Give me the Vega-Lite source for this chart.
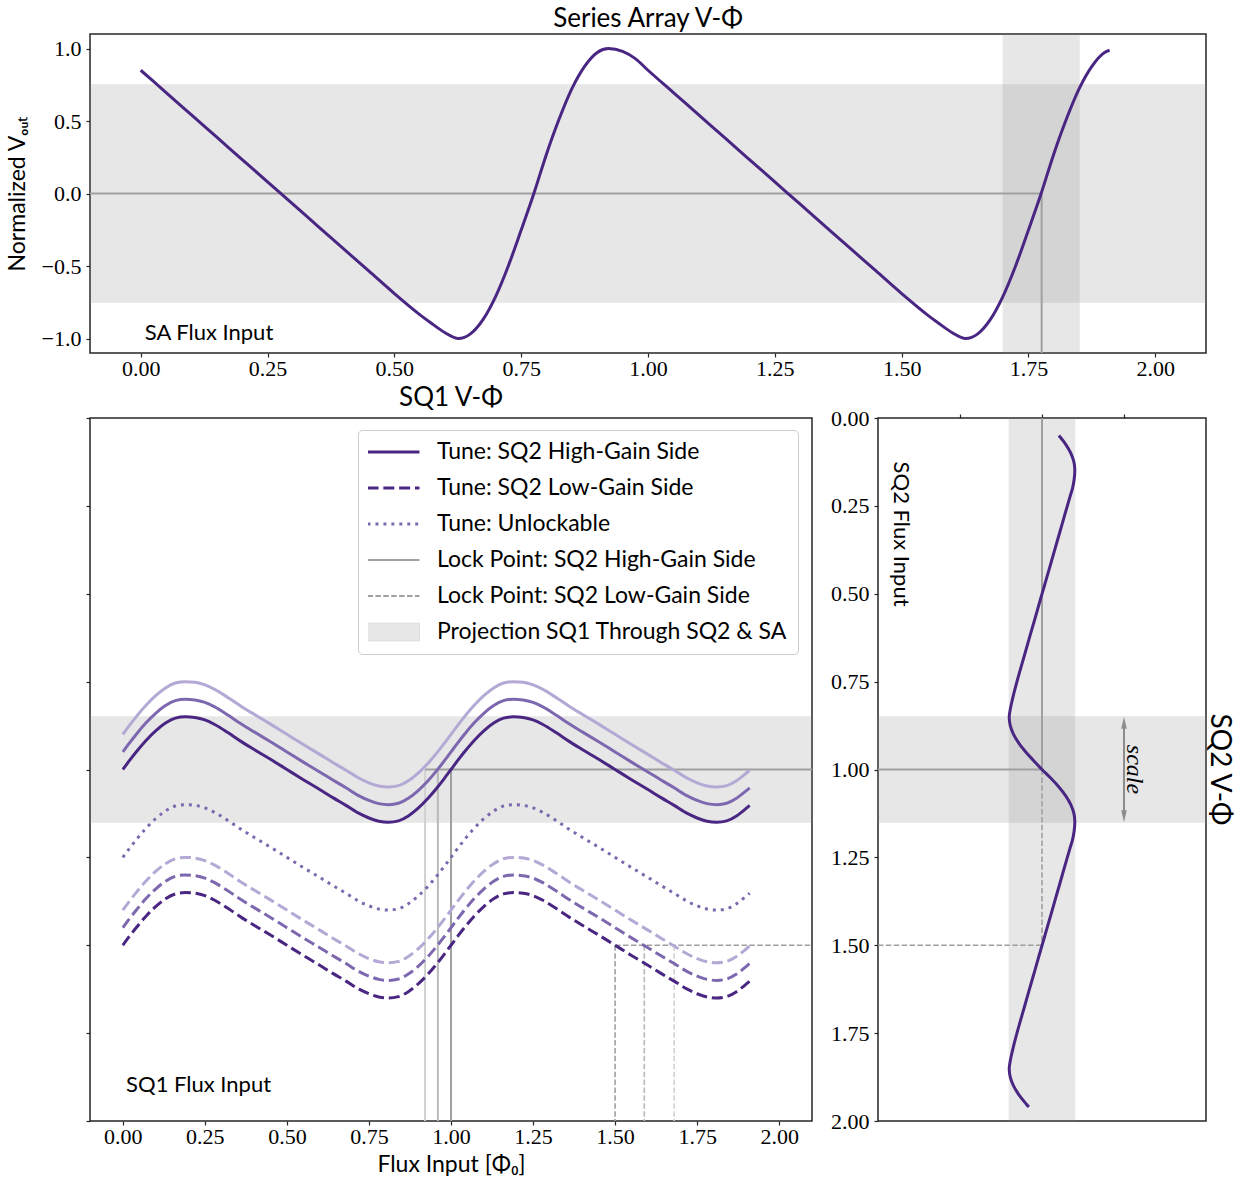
{
  "$schema": "https://vega.github.io/schema/vega-lite/v6.json",
  "background": "white",
  "padding": {"left": 5, "top": 4, "right": 6, "bottom": 0},
  "bounds": "flush",
  "spacing": 65,
  "config": {
    "view": {"stroke": "#262626", "strokeWidth": 1.5},
    "axis": {"labelFont": "Liberation Serif", "labelFontSize": 22, "labelColor": "#000", "titleFont": "Lato", "titleFontSize": 23, "titleFontWeight": "normal", "titleColor": "#000", "domain": false, "grid": false, "tickColor": "#262626", "tickSize": 4, "tickWidth": 1.2, "labelPadding": 5, "labelFlush": false, "labelOverlap": false, "titlePadding": 7},
    "axisX": {"labelPadding": 1, "titlePadding": 6},
    "axisY": {"titlePadding": 12},
    "title": {"font": "Lato", "fontSize": 26, "fontWeight": "normal", "color": "#000"},
    "text": {"font": "Lato", "fontSize": 22, "color": "#000"}
  },
  "datasets": {
    "sa": [{"x":0,"y":0.85},{"x":0.05,"y":0.696},{"x":0.1,"y":0.542},{"x":0.15,"y":0.388},{"x":0.2,"y":0.234},{"x":0.25,"y":0.08},{"x":0.3,"y":-0.074},{"x":0.35,"y":-0.228},{"x":0.4,"y":-0.382},{"x":0.45,"y":-0.536},{"x":0.5,"y":-0.69},{"x":0.55,"y":-0.835},{"x":0.575,"y":-0.9},{"x":0.6,"y":-0.96},{"x":0.626,"y":-1.0},{"x":0.65,"y":-0.968},{"x":0.675,"y":-0.868},{"x":0.7,"y":-0.707},{"x":0.725,"y":-0.496},{"x":0.75,"y":-0.252},{"x":0.775,"y":0},{"x":0.8,"y":0.273},{"x":0.825,"y":0.515},{"x":0.85,"y":0.723},{"x":0.875,"y":0.877},{"x":0.9,"y":0.973},{"x":0.922,"y":1.0},{"x":0.95,"y":0.98},{"x":0.975,"y":0.93},
      {"x":1.0,"y":0.85},{"x":1.05,"y":0.696},{"x":1.1,"y":0.542},{"x":1.15,"y":0.388},{"x":1.2,"y":0.234},{"x":1.25,"y":0.08},{"x":1.3,"y":-0.074},{"x":1.35,"y":-0.228},{"x":1.4,"y":-0.382},{"x":1.45,"y":-0.536},{"x":1.5,"y":-0.69},{"x":1.55,"y":-0.835},{"x":1.575,"y":-0.9},{"x":1.6,"y":-0.96},{"x":1.626,"y":-1.0},{"x":1.65,"y":-0.968},{"x":1.675,"y":-0.868},{"x":1.7,"y":-0.707},{"x":1.725,"y":-0.496},{"x":1.75,"y":-0.252},{"x":1.775,"y":0},{"x":1.8,"y":0.273},{"x":1.825,"y":0.515},{"x":1.85,"y":0.723},{"x":1.875,"y":0.877},{"x":1.9,"y":0.973},{"x":1.91,"y":0.988}],
    "sq2": [{"y":0.05,"x":0.206},{"y":0.075,"x":0.289},{"y":0.1,"x":0.351},{"y":0.125,"x":0.389},{"y":0.147,"x":0.4},{"y":0.175,"x":0.392},{"y":0.2,"x":0.372},{"y":0.225,"x":0.34},{"y":0.275,"x":0.278},{"y":0.325,"x":0.217},{"y":0.375,"x":0.155},{"y":0.425,"x":0.094},{"y":0.475,"x":0.032},{"y":0.525,"x":-0.03},{"y":0.575,"x":-0.091},{"y":0.625,"x":-0.153},{"y":0.675,"x":-0.214},{"y":0.725,"x":-0.276},{"y":0.775,"x":-0.334},{"y":0.8,"x":-0.36},{"y":0.825,"x":-0.384},{"y":0.851,"x":-0.4},{"y":0.875,"x":-0.387},{"y":0.9,"x":-0.347},{"y":0.925,"x":-0.283},{"y":0.95,"x":-0.198},{"y":0.975,"x":-0.101},{"y":1.0,"x":0},{"y":1.025,"x":0.109},{"y":1.05,"x":0.206},{"y":1.075,"x":0.289},{"y":1.1,"x":0.351},{"y":1.125,"x":0.389},{"y":1.147,"x":0.4},{"y":1.175,"x":0.392},{"y":1.2,"x":0.372},{"y":1.225,"x":0.34},{"y":1.275,"x":0.278},{"y":1.325,"x":0.217},{"y":1.375,"x":0.155},{"y":1.425,"x":0.094},{"y":1.475,"x":0.032},{"y":1.525,"x":-0.03},{"y":1.575,"x":-0.091},{"y":1.625,"x":-0.153},{"y":1.675,"x":-0.214},{"y":1.725,"x":-0.276},{"y":1.775,"x":-0.334},{"y":1.8,"x":-0.36},{"y":1.825,"x":-0.384},{"y":1.851,"x":-0.4},{"y":1.875,"x":-0.387},{"y":1.9,"x":-0.347},{"y":1.925,"x":-0.283},{"y":1.95,"x":-0.198},{"y":1.96,"x":-0.16}],
    "sq1": [
      {"s":"h1","x":0,"y":1},{"s":"h1","x":0.02,"y":0.975},{"s":"h1","x":0.04,"y":0.951},{"s":"h1","x":0.07,"y":0.918},{"s":"h1","x":0.1,"y":0.89},{"s":"h1","x":0.13,"y":0.868},{"s":"h1","x":0.16,"y":0.854},{"s":"h1","x":0.19,"y":0.85},{"s":"h1","x":0.22,"y":0.852},{"s":"h1","x":0.25,"y":0.859},{"s":"h1","x":0.28,"y":0.872},{"s":"h1","x":0.32,"y":0.895},{"s":"h1","x":0.36,"y":0.92},{"s":"h1","x":0.4,"y":0.943},{"s":"h1","x":0.45,"y":0.971},{"s":"h1","x":0.5,"y":1},{"s":"h1","x":0.55,"y":1.029},{"s":"h1","x":0.6,"y":1.057},{"s":"h1","x":0.64,"y":1.08},{"s":"h1","x":0.68,"y":1.102},{"s":"h1","x":0.72,"y":1.125},{"s":"h1","x":0.75,"y":1.138},{"s":"h1","x":0.78,"y":1.147},{"s":"h1","x":0.81,"y":1.15},{"s":"h1","x":0.84,"y":1.146},{"s":"h1","x":0.87,"y":1.132},{"s":"h1","x":0.9,"y":1.11},{"s":"h1","x":0.93,"y":1.082},{"s":"h1","x":0.96,"y":1.049},{"s":"h1","x":0.98,"y":1.025},
      {"s":"h1","x":1,"y":1},{"s":"h1","x":1.02,"y":0.975},{"s":"h1","x":1.04,"y":0.951},{"s":"h1","x":1.07,"y":0.918},{"s":"h1","x":1.1,"y":0.89},{"s":"h1","x":1.13,"y":0.868},{"s":"h1","x":1.16,"y":0.854},{"s":"h1","x":1.19,"y":0.85},{"s":"h1","x":1.22,"y":0.852},{"s":"h1","x":1.25,"y":0.859},{"s":"h1","x":1.28,"y":0.872},{"s":"h1","x":1.32,"y":0.895},{"s":"h1","x":1.36,"y":0.92},{"s":"h1","x":1.4,"y":0.943},{"s":"h1","x":1.45,"y":0.971},{"s":"h1","x":1.5,"y":1},{"s":"h1","x":1.55,"y":1.029},{"s":"h1","x":1.6,"y":1.057},{"s":"h1","x":1.64,"y":1.08},{"s":"h1","x":1.68,"y":1.102},{"s":"h1","x":1.72,"y":1.125},{"s":"h1","x":1.75,"y":1.138},{"s":"h1","x":1.78,"y":1.147},{"s":"h1","x":1.81,"y":1.15},{"s":"h1","x":1.84,"y":1.146},{"s":"h1","x":1.87,"y":1.132},{"s":"h1","x":1.9,"y":1.11},{"s":"h1","x":1.91,"y":1.102},
      {"s":"h2","x":0,"y":0.95},{"s":"h2","x":0.02,"y":0.925},{"s":"h2","x":0.04,"y":0.901},{"s":"h2","x":0.07,"y":0.868},{"s":"h2","x":0.1,"y":0.84},{"s":"h2","x":0.13,"y":0.818},{"s":"h2","x":0.16,"y":0.804},{"s":"h2","x":0.19,"y":0.8},{"s":"h2","x":0.22,"y":0.802},{"s":"h2","x":0.25,"y":0.809},{"s":"h2","x":0.28,"y":0.822},{"s":"h2","x":0.32,"y":0.845},{"s":"h2","x":0.36,"y":0.87},{"s":"h2","x":0.4,"y":0.893},{"s":"h2","x":0.45,"y":0.921},{"s":"h2","x":0.5,"y":0.95},{"s":"h2","x":0.55,"y":0.979},{"s":"h2","x":0.6,"y":1.007},{"s":"h2","x":0.64,"y":1.03},{"s":"h2","x":0.68,"y":1.052},{"s":"h2","x":0.72,"y":1.075},{"s":"h2","x":0.75,"y":1.088},{"s":"h2","x":0.78,"y":1.097},{"s":"h2","x":0.81,"y":1.1},{"s":"h2","x":0.84,"y":1.096},{"s":"h2","x":0.87,"y":1.082},{"s":"h2","x":0.9,"y":1.06},{"s":"h2","x":0.93,"y":1.032},{"s":"h2","x":0.96,"y":0.999},{"s":"h2","x":0.98,"y":0.975},
      {"s":"h2","x":1,"y":0.95},{"s":"h2","x":1.02,"y":0.925},{"s":"h2","x":1.04,"y":0.901},{"s":"h2","x":1.07,"y":0.868},{"s":"h2","x":1.1,"y":0.84},{"s":"h2","x":1.13,"y":0.818},{"s":"h2","x":1.16,"y":0.804},{"s":"h2","x":1.19,"y":0.8},{"s":"h2","x":1.22,"y":0.802},{"s":"h2","x":1.25,"y":0.809},{"s":"h2","x":1.28,"y":0.822},{"s":"h2","x":1.32,"y":0.845},{"s":"h2","x":1.36,"y":0.87},{"s":"h2","x":1.4,"y":0.893},{"s":"h2","x":1.45,"y":0.921},{"s":"h2","x":1.5,"y":0.95},{"s":"h2","x":1.55,"y":0.979},{"s":"h2","x":1.6,"y":1.007},{"s":"h2","x":1.64,"y":1.03},{"s":"h2","x":1.68,"y":1.052},{"s":"h2","x":1.72,"y":1.075},{"s":"h2","x":1.75,"y":1.088},{"s":"h2","x":1.78,"y":1.097},{"s":"h2","x":1.81,"y":1.1},{"s":"h2","x":1.84,"y":1.096},{"s":"h2","x":1.87,"y":1.082},{"s":"h2","x":1.9,"y":1.06},{"s":"h2","x":1.91,"y":1.052},
      {"s":"h3","x":0,"y":0.9},{"s":"h3","x":0.02,"y":0.875},{"s":"h3","x":0.04,"y":0.851},{"s":"h3","x":0.07,"y":0.818},{"s":"h3","x":0.1,"y":0.79},{"s":"h3","x":0.13,"y":0.768},{"s":"h3","x":0.16,"y":0.754},{"s":"h3","x":0.19,"y":0.75},{"s":"h3","x":0.22,"y":0.752},{"s":"h3","x":0.25,"y":0.759},{"s":"h3","x":0.28,"y":0.772},{"s":"h3","x":0.32,"y":0.795},{"s":"h3","x":0.36,"y":0.82},{"s":"h3","x":0.4,"y":0.843},{"s":"h3","x":0.45,"y":0.871},{"s":"h3","x":0.5,"y":0.9},{"s":"h3","x":0.55,"y":0.929},{"s":"h3","x":0.6,"y":0.957},{"s":"h3","x":0.64,"y":0.98},{"s":"h3","x":0.68,"y":1.002},{"s":"h3","x":0.72,"y":1.025},{"s":"h3","x":0.75,"y":1.038},{"s":"h3","x":0.78,"y":1.047},{"s":"h3","x":0.81,"y":1.05},{"s":"h3","x":0.84,"y":1.046},{"s":"h3","x":0.87,"y":1.032},{"s":"h3","x":0.9,"y":1.01},{"s":"h3","x":0.93,"y":0.982},{"s":"h3","x":0.96,"y":0.949},{"s":"h3","x":0.98,"y":0.925},
      {"s":"h3","x":1,"y":0.9},{"s":"h3","x":1.02,"y":0.875},{"s":"h3","x":1.04,"y":0.851},{"s":"h3","x":1.07,"y":0.818},{"s":"h3","x":1.1,"y":0.79},{"s":"h3","x":1.13,"y":0.768},{"s":"h3","x":1.16,"y":0.754},{"s":"h3","x":1.19,"y":0.75},{"s":"h3","x":1.22,"y":0.752},{"s":"h3","x":1.25,"y":0.759},{"s":"h3","x":1.28,"y":0.772},{"s":"h3","x":1.32,"y":0.795},{"s":"h3","x":1.36,"y":0.82},{"s":"h3","x":1.4,"y":0.843},{"s":"h3","x":1.45,"y":0.871},{"s":"h3","x":1.5,"y":0.9},{"s":"h3","x":1.55,"y":0.929},{"s":"h3","x":1.6,"y":0.957},{"s":"h3","x":1.64,"y":0.98},{"s":"h3","x":1.68,"y":1.002},{"s":"h3","x":1.72,"y":1.025},{"s":"h3","x":1.75,"y":1.038},{"s":"h3","x":1.78,"y":1.047},{"s":"h3","x":1.81,"y":1.05},{"s":"h3","x":1.84,"y":1.046},{"s":"h3","x":1.87,"y":1.032},{"s":"h3","x":1.9,"y":1.01},{"s":"h3","x":1.91,"y":1.002},
      {"s":"u","x":0,"y":1.25},{"s":"u","x":0.02,"y":1.225},{"s":"u","x":0.04,"y":1.201},{"s":"u","x":0.07,"y":1.168},{"s":"u","x":0.1,"y":1.14},{"s":"u","x":0.13,"y":1.118},{"s":"u","x":0.16,"y":1.104},{"s":"u","x":0.19,"y":1.1},{"s":"u","x":0.22,"y":1.102},{"s":"u","x":0.25,"y":1.109},{"s":"u","x":0.28,"y":1.122},{"s":"u","x":0.32,"y":1.145},{"s":"u","x":0.36,"y":1.17},{"s":"u","x":0.4,"y":1.193},{"s":"u","x":0.45,"y":1.221},{"s":"u","x":0.5,"y":1.25},{"s":"u","x":0.55,"y":1.279},{"s":"u","x":0.6,"y":1.307},{"s":"u","x":0.64,"y":1.33},{"s":"u","x":0.68,"y":1.352},{"s":"u","x":0.72,"y":1.375},{"s":"u","x":0.75,"y":1.388},{"s":"u","x":0.78,"y":1.397},{"s":"u","x":0.81,"y":1.4},{"s":"u","x":0.84,"y":1.396},{"s":"u","x":0.87,"y":1.382},{"s":"u","x":0.9,"y":1.36},{"s":"u","x":0.93,"y":1.332},{"s":"u","x":0.96,"y":1.299},{"s":"u","x":0.98,"y":1.275},
      {"s":"u","x":1,"y":1.25},{"s":"u","x":1.02,"y":1.225},{"s":"u","x":1.04,"y":1.201},{"s":"u","x":1.07,"y":1.168},{"s":"u","x":1.1,"y":1.14},{"s":"u","x":1.13,"y":1.118},{"s":"u","x":1.16,"y":1.104},{"s":"u","x":1.19,"y":1.1},{"s":"u","x":1.22,"y":1.102},{"s":"u","x":1.25,"y":1.109},{"s":"u","x":1.28,"y":1.122},{"s":"u","x":1.32,"y":1.145},{"s":"u","x":1.36,"y":1.17},{"s":"u","x":1.4,"y":1.193},{"s":"u","x":1.45,"y":1.221},{"s":"u","x":1.5,"y":1.25},{"s":"u","x":1.55,"y":1.279},{"s":"u","x":1.6,"y":1.307},{"s":"u","x":1.64,"y":1.33},{"s":"u","x":1.68,"y":1.352},{"s":"u","x":1.72,"y":1.375},{"s":"u","x":1.75,"y":1.388},{"s":"u","x":1.78,"y":1.397},{"s":"u","x":1.81,"y":1.4},{"s":"u","x":1.84,"y":1.396},{"s":"u","x":1.87,"y":1.382},{"s":"u","x":1.9,"y":1.36},{"s":"u","x":1.91,"y":1.352},
      {"s":"l1","x":0,"y":1.5},{"s":"l1","x":0.02,"y":1.475},{"s":"l1","x":0.04,"y":1.451},{"s":"l1","x":0.07,"y":1.418},{"s":"l1","x":0.1,"y":1.39},{"s":"l1","x":0.13,"y":1.368},{"s":"l1","x":0.16,"y":1.354},{"s":"l1","x":0.19,"y":1.35},{"s":"l1","x":0.22,"y":1.352},{"s":"l1","x":0.25,"y":1.359},{"s":"l1","x":0.28,"y":1.372},{"s":"l1","x":0.32,"y":1.395},{"s":"l1","x":0.36,"y":1.42},{"s":"l1","x":0.4,"y":1.443},{"s":"l1","x":0.45,"y":1.471},{"s":"l1","x":0.5,"y":1.5},{"s":"l1","x":0.55,"y":1.529},{"s":"l1","x":0.6,"y":1.557},{"s":"l1","x":0.64,"y":1.58},{"s":"l1","x":0.68,"y":1.602},{"s":"l1","x":0.72,"y":1.625},{"s":"l1","x":0.75,"y":1.638},{"s":"l1","x":0.78,"y":1.647},{"s":"l1","x":0.81,"y":1.65},{"s":"l1","x":0.84,"y":1.646},{"s":"l1","x":0.87,"y":1.632},{"s":"l1","x":0.9,"y":1.61},{"s":"l1","x":0.93,"y":1.582},{"s":"l1","x":0.96,"y":1.549},{"s":"l1","x":0.98,"y":1.525},
      {"s":"l1","x":1,"y":1.5},{"s":"l1","x":1.02,"y":1.475},{"s":"l1","x":1.04,"y":1.451},{"s":"l1","x":1.07,"y":1.418},{"s":"l1","x":1.1,"y":1.39},{"s":"l1","x":1.13,"y":1.368},{"s":"l1","x":1.16,"y":1.354},{"s":"l1","x":1.19,"y":1.35},{"s":"l1","x":1.22,"y":1.352},{"s":"l1","x":1.25,"y":1.359},{"s":"l1","x":1.28,"y":1.372},{"s":"l1","x":1.32,"y":1.395},{"s":"l1","x":1.36,"y":1.42},{"s":"l1","x":1.4,"y":1.443},{"s":"l1","x":1.45,"y":1.471},{"s":"l1","x":1.5,"y":1.5},{"s":"l1","x":1.55,"y":1.529},{"s":"l1","x":1.6,"y":1.557},{"s":"l1","x":1.64,"y":1.58},{"s":"l1","x":1.68,"y":1.602},{"s":"l1","x":1.72,"y":1.625},{"s":"l1","x":1.75,"y":1.638},{"s":"l1","x":1.78,"y":1.647},{"s":"l1","x":1.81,"y":1.65},{"s":"l1","x":1.84,"y":1.646},{"s":"l1","x":1.87,"y":1.632},{"s":"l1","x":1.9,"y":1.61},{"s":"l1","x":1.91,"y":1.602},
      {"s":"l2","x":0,"y":1.45},{"s":"l2","x":0.02,"y":1.425},{"s":"l2","x":0.04,"y":1.401},{"s":"l2","x":0.07,"y":1.368},{"s":"l2","x":0.1,"y":1.34},{"s":"l2","x":0.13,"y":1.318},{"s":"l2","x":0.16,"y":1.304},{"s":"l2","x":0.19,"y":1.3},{"s":"l2","x":0.22,"y":1.302},{"s":"l2","x":0.25,"y":1.309},{"s":"l2","x":0.28,"y":1.322},{"s":"l2","x":0.32,"y":1.345},{"s":"l2","x":0.36,"y":1.37},{"s":"l2","x":0.4,"y":1.393},{"s":"l2","x":0.45,"y":1.421},{"s":"l2","x":0.5,"y":1.45},{"s":"l2","x":0.55,"y":1.479},{"s":"l2","x":0.6,"y":1.507},{"s":"l2","x":0.64,"y":1.53},{"s":"l2","x":0.68,"y":1.552},{"s":"l2","x":0.72,"y":1.575},{"s":"l2","x":0.75,"y":1.588},{"s":"l2","x":0.78,"y":1.597},{"s":"l2","x":0.81,"y":1.6},{"s":"l2","x":0.84,"y":1.596},{"s":"l2","x":0.87,"y":1.582},{"s":"l2","x":0.9,"y":1.56},{"s":"l2","x":0.93,"y":1.532},{"s":"l2","x":0.96,"y":1.499},{"s":"l2","x":0.98,"y":1.475},
      {"s":"l2","x":1,"y":1.45},{"s":"l2","x":1.02,"y":1.425},{"s":"l2","x":1.04,"y":1.401},{"s":"l2","x":1.07,"y":1.368},{"s":"l2","x":1.1,"y":1.34},{"s":"l2","x":1.13,"y":1.318},{"s":"l2","x":1.16,"y":1.304},{"s":"l2","x":1.19,"y":1.3},{"s":"l2","x":1.22,"y":1.302},{"s":"l2","x":1.25,"y":1.309},{"s":"l2","x":1.28,"y":1.322},{"s":"l2","x":1.32,"y":1.345},{"s":"l2","x":1.36,"y":1.37},{"s":"l2","x":1.4,"y":1.393},{"s":"l2","x":1.45,"y":1.421},{"s":"l2","x":1.5,"y":1.45},{"s":"l2","x":1.55,"y":1.479},{"s":"l2","x":1.6,"y":1.507},{"s":"l2","x":1.64,"y":1.53},{"s":"l2","x":1.68,"y":1.552},{"s":"l2","x":1.72,"y":1.575},{"s":"l2","x":1.75,"y":1.588},{"s":"l2","x":1.78,"y":1.597},{"s":"l2","x":1.81,"y":1.6},{"s":"l2","x":1.84,"y":1.596},{"s":"l2","x":1.87,"y":1.582},{"s":"l2","x":1.9,"y":1.56},{"s":"l2","x":1.91,"y":1.552},
      {"s":"l3","x":0,"y":1.4},{"s":"l3","x":0.02,"y":1.375},{"s":"l3","x":0.04,"y":1.351},{"s":"l3","x":0.07,"y":1.318},{"s":"l3","x":0.1,"y":1.29},{"s":"l3","x":0.13,"y":1.268},{"s":"l3","x":0.16,"y":1.254},{"s":"l3","x":0.19,"y":1.25},{"s":"l3","x":0.22,"y":1.252},{"s":"l3","x":0.25,"y":1.259},{"s":"l3","x":0.28,"y":1.272},{"s":"l3","x":0.32,"y":1.295},{"s":"l3","x":0.36,"y":1.32},{"s":"l3","x":0.4,"y":1.343},{"s":"l3","x":0.45,"y":1.371},{"s":"l3","x":0.5,"y":1.4},{"s":"l3","x":0.55,"y":1.429},{"s":"l3","x":0.6,"y":1.457},{"s":"l3","x":0.64,"y":1.48},{"s":"l3","x":0.68,"y":1.502},{"s":"l3","x":0.72,"y":1.525},{"s":"l3","x":0.75,"y":1.538},{"s":"l3","x":0.78,"y":1.547},{"s":"l3","x":0.81,"y":1.55},{"s":"l3","x":0.84,"y":1.546},{"s":"l3","x":0.87,"y":1.532},{"s":"l3","x":0.9,"y":1.51},{"s":"l3","x":0.93,"y":1.482},{"s":"l3","x":0.96,"y":1.449},{"s":"l3","x":0.98,"y":1.425},
      {"s":"l3","x":1,"y":1.4},{"s":"l3","x":1.02,"y":1.375},{"s":"l3","x":1.04,"y":1.351},{"s":"l3","x":1.07,"y":1.318},{"s":"l3","x":1.1,"y":1.29},{"s":"l3","x":1.13,"y":1.268},{"s":"l3","x":1.16,"y":1.254},{"s":"l3","x":1.19,"y":1.25},{"s":"l3","x":1.22,"y":1.252},{"s":"l3","x":1.25,"y":1.259},{"s":"l3","x":1.28,"y":1.272},{"s":"l3","x":1.32,"y":1.295},{"s":"l3","x":1.36,"y":1.32},{"s":"l3","x":1.4,"y":1.343},{"s":"l3","x":1.45,"y":1.371},{"s":"l3","x":1.5,"y":1.4},{"s":"l3","x":1.55,"y":1.429},{"s":"l3","x":1.6,"y":1.457},{"s":"l3","x":1.64,"y":1.48},{"s":"l3","x":1.68,"y":1.502},{"s":"l3","x":1.72,"y":1.525},{"s":"l3","x":1.75,"y":1.538},{"s":"l3","x":1.78,"y":1.547},{"s":"l3","x":1.81,"y":1.55},{"s":"l3","x":1.84,"y":1.546},{"s":"l3","x":1.87,"y":1.532},{"s":"l3","x":1.9,"y":1.51},{"s":"l3","x":1.91,"y":1.502}
    ]
  },
  "vconcat": [
    {
      "width": 1116, "height": 319,
      "title": {"text": "Series Array V-Φ", "offset": 2},
      "layer": [
        {"data": {"values": [{}]}, "mark": {"type": "rect", "fill": "#808080", "stroke": "#808080", "strokeWidth": 1, "opacity": 0.18},
         "encoding": {
           "x": {"datum": -0.1, "type": "quantitative", "scale": {"domain": [-0.1, 2.1], "nice": false, "zero": false}, "axis": {"values": [0, 0.25, 0.5, 0.75, 1, 1.25, 1.5, 1.75, 2], "format": ".2f", "title": null}},
           "x2": {"datum": 2.1},
           "y": {"datum": -0.75, "type": "quantitative", "scale": {"domain": [-1.1, 1.1], "nice": false, "zero": false}, "axis": {"values": [-1, -0.5, 0, 0.5, 1], "format": ".1f", "title": "Normalized Vₒᵤₜ"}},
           "y2": {"datum": 0.75}}},
        {"data": {"values": [{}]}, "mark": {"type": "rect", "fill": "#808080", "stroke": "#808080", "strokeWidth": 1, "opacity": 0.18},
         "encoding": {"x": {"datum": 1.7}, "x2": {"datum": 1.85}, "y": {"datum": -1.1}, "y2": {"datum": 1.1}}},
        {"data": {"values": [{}]}, "mark": {"type": "rule", "color": "#a0a0a0", "strokeWidth": 2},
         "encoding": {"x": {"datum": -0.1}, "x2": {"datum": 1.776}, "y": {"datum": 0}}},
        {"data": {"values": [{}]}, "mark": {"type": "rule", "color": "#a0a0a0", "strokeWidth": 2},
         "encoding": {"x": {"datum": 1.776}, "y": {"datum": 0}, "y2": {"datum": -1.1}}},
        {"data": {"name": "sa"}, "mark": {"type": "line", "color": "#4a2683", "strokeWidth": 3, "interpolate": "monotone"},
         "encoding": {"x": {"field": "x", "type": "quantitative"}, "y": {"field": "y", "type": "quantitative"}}},
        {"data": {"values": [{}]}, "mark": {"type": "text", "align": "left", "baseline": "middle", "fontSize": 22},
         "encoding": {"x": {"datum": 0.008}, "y": {"datum": -0.965}, "text": {"value": "SA Flux Input"}}}
      ]
    },
    {
      "bounds": "flush",
      "spacing": 66,
      "hconcat": [
        {
          "width": 722, "height": 703,
          "title": {"text": "SQ1 V-Φ", "offset": 6},
          "layer": [
            {"data": {"values": [{}]}, "mark": {"type": "rect", "fill": "#808080", "stroke": "#808080", "strokeWidth": 1, "opacity": 0.18},
             "encoding": {
               "x": {"datum": -0.1, "type": "quantitative", "scale": {"domain": [-0.1, 2.1], "nice": false, "zero": false}, "axis": {"values": [0, 0.25, 0.5, 0.75, 1, 1.25, 1.5, 1.75, 2], "format": ".2f", "title": "Flux Input [Φ₀]"}},
               "x2": {"datum": 2.1},
               "y": {"datum": 0.85, "type": "quantitative", "scale": {"domain": [0, 2], "reverse": true, "nice": false, "zero": false}, "axis": {"values": [0, 0.25, 0.5, 0.75, 1, 1.25, 1.5, 1.75, 2], "labels": false, "title": null}},
               "y2": {"datum": 1.15}}},
            {"data": {"values": [{}]}, "mark": {"type": "rule", "color": "#d0d0d0", "strokeWidth": 2},
             "encoding": {"x": {"datum": 0.921}, "y": {"datum": 1.0}, "y2": {"datum": 2.0}}},
            {"data": {"values": [{}]}, "mark": {"type": "rule", "color": "#b9b9b9", "strokeWidth": 2},
             "encoding": {"x": {"datum": 0.96}, "y": {"datum": 1.0}, "y2": {"datum": 2.0}}},
            {"data": {"values": [{}]}, "mark": {"type": "rule", "color": "#a0a0a0", "strokeWidth": 2},
             "encoding": {"x": {"datum": 1.0}, "y": {"datum": 1.0}, "y2": {"datum": 2.0}}},
            {"data": {"values": [{}]}, "mark": {"type": "rule", "color": "#a0a0a0", "strokeWidth": 2},
             "encoding": {"x": {"datum": 0.921}, "x2": {"datum": 2.1}, "y": {"datum": 1.0}}},
            {"data": {"values": [{}]}, "mark": {"type": "rule", "color": "#a0a0a0", "strokeWidth": 1.6, "strokeDash": [5.5, 2.4]},
             "encoding": {"x": {"datum": 1.5}, "y": {"datum": 1.5}, "y2": {"datum": 2.0}}},
            {"data": {"values": [{}]}, "mark": {"type": "rule", "color": "#b9b9b9", "strokeWidth": 1.6, "strokeDash": [5.5, 2.4]},
             "encoding": {"x": {"datum": 1.589}, "y": {"datum": 1.5}, "y2": {"datum": 2.0}}},
            {"data": {"values": [{}]}, "mark": {"type": "rule", "color": "#d0d0d0", "strokeWidth": 1.6, "strokeDash": [5.5, 2.4]},
             "encoding": {"x": {"datum": 1.68}, "y": {"datum": 1.5}, "y2": {"datum": 2.0}}},
            {"data": {"values": [{}]}, "mark": {"type": "rule", "color": "#a0a0a0", "strokeWidth": 1.6, "strokeDash": [5.5, 2.4]},
             "encoding": {"x": {"datum": 1.5}, "x2": {"datum": 2.1}, "y": {"datum": 1.5}}},
            {"data": {"name": "sq1"}, "transform": [{"filter": "datum.s === 'h3'"}], "mark": {"type": "line", "color": "#b4a8d4", "strokeWidth": 3, "interpolate": "monotone"},
             "encoding": {"x": {"field": "x", "type": "quantitative"}, "y": {"field": "y", "type": "quantitative"}}},
            {"data": {"name": "sq1"}, "transform": [{"filter": "datum.s === 'h2'"}], "mark": {"type": "line", "color": "#7d68af", "strokeWidth": 3, "interpolate": "monotone"},
             "encoding": {"x": {"field": "x", "type": "quantitative"}, "y": {"field": "y", "type": "quantitative"}}},
            {"data": {"name": "sq1"}, "transform": [{"filter": "datum.s === 'h1'"}], "mark": {"type": "line", "color": "#4a2683", "strokeWidth": 3, "interpolate": "monotone"},
             "encoding": {"x": {"field": "x", "type": "quantitative"}, "y": {"field": "y", "type": "quantitative"}}},
            {"data": {"name": "sq1"}, "transform": [{"filter": "datum.s === 'u'"}], "mark": {"type": "line", "color": "#7d68af", "strokeWidth": 3, "strokeDash": [3, 5], "interpolate": "monotone"},
             "encoding": {"x": {"field": "x", "type": "quantitative"}, "y": {"field": "y", "type": "quantitative"}}},
            {"data": {"name": "sq1"}, "transform": [{"filter": "datum.s === 'l3'"}], "mark": {"type": "line", "color": "#b4a8d4", "strokeWidth": 3, "strokeDash": [11, 4.8], "interpolate": "monotone"},
             "encoding": {"x": {"field": "x", "type": "quantitative"}, "y": {"field": "y", "type": "quantitative"}}},
            {"data": {"name": "sq1"}, "transform": [{"filter": "datum.s === 'l2'"}], "mark": {"type": "line", "color": "#7d68af", "strokeWidth": 3, "strokeDash": [11, 4.8], "interpolate": "monotone"},
             "encoding": {"x": {"field": "x", "type": "quantitative"}, "y": {"field": "y", "type": "quantitative"}}},
            {"data": {"name": "sq1"}, "transform": [{"filter": "datum.s === 'l1'"}], "mark": {"type": "line", "color": "#4a2683", "strokeWidth": 3, "strokeDash": [11, 4.8], "interpolate": "monotone"},
             "encoding": {"x": {"field": "x", "type": "quantitative"}, "y": {"field": "y", "type": "quantitative"}}},
            {"data": {"values": [{}]}, "mark": {"type": "text", "align": "left", "baseline": "middle", "fontSize": 22},
             "encoding": {"x": {"datum": 0.01}, "y": {"datum": 1.898}, "text": {"value": "SQ1 Flux Input"}}},
            {"data": {"values": [{"leg": "Tune: SQ2 High-Gain Side"}, {"leg": "Tune: SQ2 Low-Gain Side"}, {"leg": "Tune: Unlockable"}, {"leg": "Lock Point: SQ2 High-Gain Side"}, {"leg": "Lock Point: SQ2 Low-Gain Side"}, {"leg": "Projection SQ1 Through SQ2 & SA"}]},
             "mark": {"type": "line", "opacity": 0},
             "encoding": {
               "x": {"datum": 0}, "y": {"datum": 1},
               "color": {"field": "leg", "type": "nominal",
                 "scale": {"domain": ["Tune: SQ2 High-Gain Side", "Tune: SQ2 Low-Gain Side", "Tune: Unlockable", "Lock Point: SQ2 High-Gain Side", "Lock Point: SQ2 Low-Gain Side", "Projection SQ1 Through SQ2 & SA"], "range": ["#4a2683", "#4a2683", "#7d68af", "#a0a0a0", "#a0a0a0", "#d9d9d9"]},
                 "legend": {"title": null, "orient": "none", "legendX": 268, "legendY": 396, "symbolType": "stroke", "symbolSize": 2700, "symbolStrokeWidth": 3, "symbolOpacity": 1, "symbolOffset": 14, "labelFont": "Lato", "labelFontSize": 23, "labelColor": "#000", "labelLimit": 600, "labelOffset": 32, "clipHeight": 24, "rowPadding": 12, "padding": 10, "strokeColor": "#cccccc", "fillColor": "#ffffff", "cornerRadius": 4,
                   "encode": {"symbols": {"update": {
                     "shape": {"signal": "datum.value === 'Projection SQ1 Through SQ2 & SA' ? 'M-1,-0.34L1,-0.34L1,0.34L-1,0.34Z' : 'stroke'"},
                     "fill": {"signal": "datum.value === 'Projection SQ1 Through SQ2 & SA' ? '#e7e7e7' : 'transparent'"},
                     "strokeWidth": {"signal": "datum.index < 3 ? 3 : (datum.index < 5 ? 1.8 : 1)"},
                     "opacity": {"value": 1}}}}}},
               "strokeDash": {"field": "leg", "type": "nominal",
                 "scale": {"domain": ["Tune: SQ2 High-Gain Side", "Tune: SQ2 Low-Gain Side", "Tune: Unlockable", "Lock Point: SQ2 High-Gain Side", "Lock Point: SQ2 Low-Gain Side", "Projection SQ1 Through SQ2 & SA"], "range": [[1, 0], [11, 4.8], [3, 4.95], [1, 0], [5.5, 2.4], [1, 0]]},
                 "legend": {"title": null, "orient": "none", "legendX": 268, "legendY": 396}}}}
          ]
        },
        {
          "width": 328, "height": 703,
          "title": {"text": "SQ2 V-Φ", "orient": "right", "anchor": "middle", "fontSize": 28, "offset": -2},
          "layer": [
            {"data": {"values": [{}]}, "mark": {"type": "rect", "fill": "#808080", "stroke": "#808080", "strokeWidth": 1, "opacity": 0.18},
             "encoding": {
               "x": {"datum": -0.4, "type": "quantitative", "scale": {"domain": [-2, 2], "nice": false, "zero": false}, "axis": {"orient": "top", "values": [-1, 0, 1], "labels": false, "title": null}},
               "x2": {"datum": 0.4},
               "y": {"datum": 0, "type": "quantitative", "scale": {"domain": [0, 2], "reverse": true, "nice": false, "zero": false}, "axis": {"values": [0, 0.25, 0.5, 0.75, 1, 1.25, 1.5, 1.75, 2], "format": ".2f", "title": null}},
               "y2": {"datum": 2}}},
            {"data": {"values": [{}]}, "mark": {"type": "rect", "fill": "#808080", "stroke": "#808080", "strokeWidth": 1, "opacity": 0.18},
             "encoding": {"x": {"datum": -2}, "x2": {"datum": 2}, "y": {"datum": 0.85}, "y2": {"datum": 1.15}}},
            {"data": {"values": [{}]}, "mark": {"type": "rule", "color": "#a0a0a0", "strokeWidth": 2},
             "encoding": {"x": {"datum": 0}, "y": {"datum": 0}, "y2": {"datum": 1.0}}},
            {"data": {"values": [{}]}, "mark": {"type": "rule", "color": "#a0a0a0", "strokeWidth": 2},
             "encoding": {"x": {"datum": -2}, "x2": {"datum": 0}, "y": {"datum": 1.0}}},
            {"data": {"values": [{}]}, "mark": {"type": "rule", "color": "#a0a0a0", "strokeWidth": 1.6, "strokeDash": [5.5, 2.4]},
             "encoding": {"x": {"datum": 0}, "y": {"datum": 1.0}, "y2": {"datum": 1.5}}},
            {"data": {"values": [{}]}, "mark": {"type": "rule", "color": "#a0a0a0", "strokeWidth": 1.6, "strokeDash": [5.5, 2.4]},
             "encoding": {"x": {"datum": -2}, "x2": {"datum": 0}, "y": {"datum": 1.5}}},
            {"data": {"name": "sq2"}, "mark": {"type": "line", "color": "#4a2683", "strokeWidth": 3, "interpolate": "catmull-rom"},
             "encoding": {"x": {"field": "x", "type": "quantitative"}, "y": {"field": "y", "type": "quantitative"}, "order": {"field": "y", "type": "quantitative"}}},
            {"data": {"values": [{}]}, "mark": {"type": "rule", "color": "#8c8c8c", "strokeWidth": 2},
             "encoding": {"x": {"datum": 1.0}, "y": {"datum": 0.87}, "y2": {"datum": 1.13}}},
            {"data": {"values": [{}]}, "mark": {"type": "point", "filled": true, "color": "#8c8c8c", "opacity": 1, "size": 150, "shape": "M0,-1L0.45,1L-0.45,1Z"},
             "encoding": {"x": {"datum": 1.0}, "y": {"datum": 0.867}}},
            {"data": {"values": [{}]}, "mark": {"type": "point", "filled": true, "color": "#8c8c8c", "opacity": 1, "size": 150, "shape": "M0,1L0.45,-1L-0.45,-1Z"},
             "encoding": {"x": {"datum": 1.0}, "y": {"datum": 1.133}}},
            {"data": {"values": [{}]}, "mark": {"type": "text", "align": "center", "baseline": "middle", "angle": 90, "font": "Liberation Serif", "fontStyle": "italic", "fontSize": 24},
             "encoding": {"x": {"datum": 1.12}, "y": {"datum": 1.0}, "text": {"value": "scale"}}},
            {"data": {"values": [{}]}, "mark": {"type": "text", "align": "left", "baseline": "middle", "angle": 90, "fontSize": 22},
             "encoding": {"x": {"datum": -1.723}, "y": {"datum": 0.124}, "text": {"value": "SQ2 Flux Input"}}}
          ]
        }
      ]
    }
  ]
}
